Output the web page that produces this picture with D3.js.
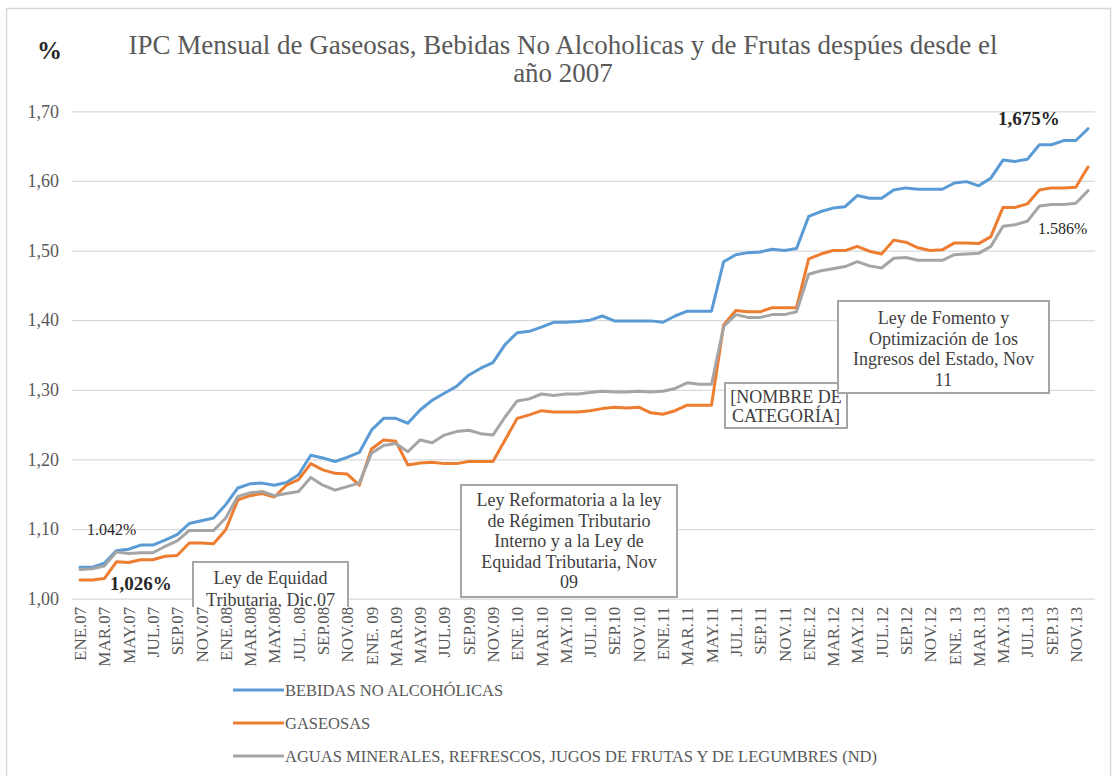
<!DOCTYPE html>
<html>
<head>
<meta charset="utf-8">
<script src="https://cdn.jsdelivr.net/npm/d3@7"></script>
<style>
  body { margin: 0; background: #fff; }
  svg { display: block; font-family: "Liberation Serif", "Times New Roman", serif; }
</style>
</head>
<body>
<div id="chart"></div>
<script>
// meses y etiquetas del eje
var monthAbbr = ["ENE", "FEB", "MAR", "ABR", "MAY", "JUN", "JUL", "AGO", "SEP", "OCT", "NOV", "DIC"];
var years = ["07", "08", "09", "10", "11", "12", "13"];
var months = [];
years.forEach(function (yy) {
    monthAbbr.forEach(function (m) { months.push(m + "." + yy); });
});
var tickLabels = ["ENE.07", "MAR.07", "MAY.07", "JUL.07", "SEP.07", "NOV.07",
    "ENE.08", "MAR.08", "MAY.08", "JUL. 08", "SEP.08", "NOV.08",
    "ENE. 09", "MAR.09", "MAY.09", "JUL.09", "SEP.09", "NOV.09",
    "ENE.10", "MAR.10", "MAY.10", "JUL.10", "SEP.10", "NOV.10",
    "ENE.11", "MAR.11", "MAY.11", "JUL.11", "SEP.11", "NOV.11",
    "ENE.12", "MAR.12", "MAY.12", "JUL.12", "SEP.12", "NOV.12",
    "ENE. 13", "MAR.13", "MAY.13", "JUL.13", "SEP.13", "NOV.13"];
var yTicks = [1.00, 1.10, 1.20, 1.30, 1.40, 1.50, 1.60, 1.70];

// series
var bebidas = [
    1.045, 1.045, 1.051, 1.069, 1.071, 1.077, 1.077, 1.084, 1.092, 1.108, 1.112, 1.116,
    1.135, 1.159, 1.165, 1.166, 1.163, 1.167, 1.178, 1.206, 1.202, 1.197, 1.203, 1.210,
    1.242, 1.259, 1.259, 1.252, 1.271, 1.285, 1.295, 1.305, 1.321, 1.331, 1.339, 1.365,
    1.382, 1.384, 1.390, 1.397, 1.397, 1.398, 1.400, 1.406, 1.399, 1.399, 1.399, 1.399,
    1.397, 1.406, 1.413, 1.413, 1.413, 1.484, 1.494, 1.497, 1.498, 1.502, 1.500, 1.503,
    1.549, 1.556, 1.561, 1.563, 1.579, 1.575, 1.575, 1.587, 1.590, 1.588, 1.588, 1.588,
    1.597, 1.599, 1.593, 1.604, 1.630, 1.628, 1.631, 1.652, 1.652, 1.658, 1.658, 1.675];
var gaseosas = [
    1.027, 1.027, 1.029, 1.053, 1.052, 1.056, 1.056, 1.061, 1.062, 1.080, 1.080, 1.079,
    1.099, 1.142, 1.148, 1.151, 1.146, 1.163, 1.171, 1.194, 1.185, 1.180, 1.179, 1.163,
    1.215, 1.228, 1.226, 1.192, 1.195, 1.196, 1.194, 1.194, 1.197, 1.197, 1.197, 1.228,
    1.259, 1.264, 1.270, 1.268, 1.268, 1.268, 1.270, 1.273, 1.275, 1.274, 1.275, 1.267,
    1.265, 1.270, 1.278, 1.278, 1.278, 1.393, 1.414, 1.412, 1.412, 1.418, 1.418, 1.418,
    1.488, 1.495, 1.500, 1.500, 1.506, 1.499, 1.495, 1.515, 1.512, 1.504, 1.500, 1.501,
    1.511, 1.511, 1.510, 1.520, 1.562, 1.562, 1.567, 1.587, 1.590, 1.590, 1.591, 1.620];
var aguas = [
    1.042, 1.043, 1.047, 1.067, 1.065, 1.066, 1.066, 1.075, 1.083, 1.098, 1.098, 1.098,
    1.116, 1.147, 1.152, 1.154, 1.148, 1.151, 1.154, 1.174, 1.163, 1.156, 1.161, 1.166,
    1.209, 1.220, 1.223, 1.211, 1.228, 1.224, 1.235, 1.240, 1.242, 1.237, 1.235, 1.261,
    1.284, 1.287, 1.294, 1.292, 1.294, 1.294, 1.296, 1.298, 1.297, 1.297, 1.298, 1.297,
    1.298, 1.302, 1.310, 1.308, 1.308, 1.391, 1.408, 1.404, 1.404, 1.408, 1.408, 1.412,
    1.466, 1.471, 1.474, 1.477, 1.484, 1.478, 1.475, 1.489, 1.490, 1.486, 1.486, 1.486,
    1.494, 1.495, 1.496, 1.506, 1.535, 1.537, 1.542, 1.564, 1.566, 1.566, 1.568, 1.586];

var seriesNames = ["BEBIDAS NO ALCOHÓLICAS", "GASEOSAS",
    "AGUAS MINERALES, REFRESCOS, JUGOS DE FRUTAS Y DE LEGUMBRES (ND)"];
var seriesColors = ["#5b9bd5", "#ed7d31", "#a5a5a5"];

var width = 1113, height = 776;
var plotLeft = 72, plotRight = 1095, plotTop = 111.3, plotBottom = 598.7;

var svg = d3.select("#chart").append("svg")
    .attr("width", width)
    .attr("height", height);

// borde del area del grafico
svg.append("rect")
    .attr("x", 6.5).attr("y", 8.5)
    .attr("width", 1104).attr("height", 800)
    .attr("fill", "none")
    .attr("stroke", "#d9d9d9")
    .attr("stroke-width", 1.5);

var x = d3.scalePoint()
    .domain(months)
    .range([80, 1088]);

var y = d3.scaleLinear()
    .domain([1.0, 1.7])
    .range([plotBottom, plotTop]);

var fmt = function (d) { return d3.format(".2f")(d).replace(".", ","); };

// grid + eje Y
var yAxis = svg.append("g")
    .attr("transform", "translate(" + plotLeft + ",0)")
    .call(d3.axisLeft(y).tickValues(yTicks).tickSize(-(plotRight - plotLeft)).tickPadding(13).tickFormat(fmt));
yAxis.select(".domain").remove();
yAxis.selectAll(".tick line").attr("stroke", "#d9d9d9").attr("stroke-width", 1.3);
yAxis.selectAll(".tick text")
    .attr("fill", "#595959")
    .style("font-family", "Liberation Serif")
    .style("font-size", "18px");

// lineas
var line = d3.line()
    .x(function (d, i) { return x(months[i]); })
    .y(function (d) { return y(d); });

[bebidas, gaseosas, aguas].forEach(function (s, k) {
    svg.append("path")
        .datum(s)
        .attr("d", line)
        .attr("fill", "none")
        .attr("stroke", seriesColors[k])
        .attr("stroke-width", 3)
        .attr("stroke-linejoin", "round")
        .attr("stroke-linecap", "round");
});

// cuadros de texto
function note(bx, by, bw, bh, lines, firstY, lh, clipBottom) {
    var g = svg.append("g");
    if (clipBottom) {
        var id = "clip" + Math.round(bx);
        svg.append("clipPath").attr("id", id)
            .append("rect").attr("x", 0).attr("y", 0).attr("width", width).attr("height", clipBottom);
        g.attr("clip-path", "url(#" + id + ")");
    }
    g.append("rect")
        .attr("x", bx).attr("y", by)
        .attr("width", bw).attr("height", bh)
        .attr("fill", "#fff")
        .attr("stroke", "#a6a6a6")
        .attr("stroke-width", 2);
    lines.forEach(function (t, i) {
        g.append("text")
            .attr("x", bx + bw / 2)
            .attr("y", firstY + i * lh)
            .attr("text-anchor", "middle")
            .attr("fill", "#404040")
            .style("font-size", "18px")
            .text(t);
    });
}

note(193, 562, 155, 50, ["Ley de Equidad", "Tributaria, Dic.07"], 584, 22, 607);
note(461, 485, 216, 112, ["Ley Reformatoria a la ley", "de Régimen Tributario",
    "Interno y a la Ley de", "Equidad Tributaria, Nov", "09"], 506, 20.5);
note(725, 383, 122, 45, ["[NOMBRE DE", "CATEGORÍA]"], 403, 18.5);
note(838, 301, 211, 92, ["Ley de Fomento y", "Optimización de 1os",
    "Ingresos del Estado, Nov", "11"], 324, 20.5);

// etiquetas de valores
function label(tx, ty, t, bold, size) {
    svg.append("text")
        .attr("x", tx).attr("y", ty)
        .attr("fill", "#262626")
        .style("font-size", size + "px")
        .style("font-weight", bold ? "bold" : "normal")
        .text(t);
}
label(87, 535, "1.042%", false, 16);
label(110, 590, "1,026%", true, 19);
label(998, 125, "1,675%", true, 19);
label(1038, 234, "1.586%", false, 16);

// eje X
var evenMonths = months.filter(function (d, i) { return i % 2 === 0; });
var xAxis = svg.append("g")
    .attr("transform", "translate(0," + plotBottom + ")")
    .call(d3.axisBottom(x).tickValues(evenMonths).tickSize(0)
        .tickFormat(function (d, i) { return tickLabels[i]; }));
xAxis.select(".domain").remove();
xAxis.selectAll(".tick text")
    .attr("transform", "rotate(-90)")
    .attr("text-anchor", "end")
    .attr("x", -8)
    .attr("y", 0)
    .attr("dy", "0.33em")
    .attr("fill", "#595959")
    .style("font-family", "Liberation Serif")
    .style("font-size", "17px");

// titulo
svg.append("text")
    .attr("x", 37).attr("y", 59)
    .attr("fill", "#262626")
    .style("font-size", "25px")
    .style("font-weight", "bold")
    .text("%");
var title = svg.append("text")
    .attr("text-anchor", "middle")
    .attr("fill", "#595959")
    .style("font-size", "27px");
title.append("tspan").attr("x", 563).attr("y", 54)
    .text("IPC Mensual de Gaseosas, Bebidas No Alcoholicas y de Frutas despúes desde el");
title.append("tspan").attr("x", 563).attr("y", 82).text("año 2007");

// leyenda
var legendY = [690, 723, 756];
var legend = svg.selectAll(".key")
    .data(seriesNames)
    .enter().append("g")
    .attr("class", "key")
    .attr("transform", function (d, i) { return "translate(233," + legendY[i] + ")"; });
legend.append("line")
    .attr("x1", 0).attr("x2", 51)
    .attr("stroke", function (d, i) { return seriesColors[i]; })
    .attr("stroke-width", 3);
legend.append("text")
    .attr("x", 52).attr("dy", "0.35em")
    .attr("fill", "#595959")
    .style("font-size", "16.5px")
    .text(function (d) { return d; });
</script>
</body>
</html>
